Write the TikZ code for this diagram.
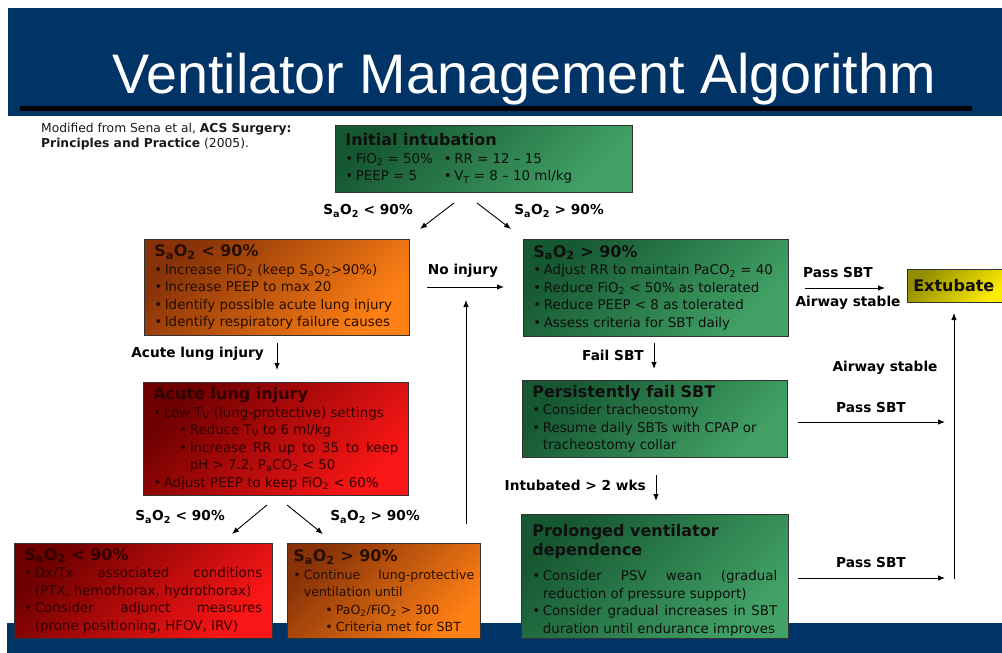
\documentclass[tikz,border=0pt]{standalone}
\usepackage{fontspec}
\setmainfont{DejaVu Sans}
\newfontfamily\titlefont{Liberation Sans}
\usetikzlibrary{arrows.meta}
\definecolor{navy}{RGB}{0,51,102}
\definecolor{gdark}{RGB}{22,88,50}
\definecolor{glight}{RGB}{66,162,102}
\definecolor{odark}{RGB}{135,50,8}
\definecolor{olight}{RGB}{255,128,20}
\definecolor{rdark}{RGB}{110,0,0}
\definecolor{rlight}{RGB}{250,22,22}
\definecolor{ydark}{RGB}{145,140,0}
\definecolor{ylight}{RGB}{252,236,0}
\definecolor{gtext}{RGB}{15,15,15}
\definecolor{otext}{RGB}{40,14,0}
\definecolor{rtext}{RGB}{50,0,0}
\newlength\bw
\setlength\bw{10.5pt}
\newcommand\bl[1]{\par{\leftskip=\bw\noindent\hskip-\bw\hbox to\bw{\textbullet\hss}#1\par}}
\newcommand\blii[2][26pt]{\par{\leftskip=\dimexpr#1+\bw\relax\noindent\hskip-\bw\hbox to\bw{\textbullet\hss}#2\par}}
\newcommand\sbs[1]{\textsubscript{#1}}
\newcommand\sao{S\textsubscript{a}O\textsubscript{2}}
\newcommand\bodysize{\fontsize{13.4}{17.5}}
\newcommand\bodyfont{\bodysize\selectfont\parindent=0pt\parskip=0pt\hyphenpenalty=10000\exhyphenpenalty=10000\tolerance=9999\emergencystretch=20pt}
\newcommand\bt[1]{{\bfseries\fontsize{16}{19}\selectfont #1\par}}
\newcommand\labfont{\bfseries\fontsize{13.7}{16}\selectfont}
\begin{document}
\begin{tikzpicture}[x=1pt,y=-1pt,
  box/.style={draw=black!80, line width=0.6pt, anchor=north west, inner xsep=10pt, inner ysep=0pt, align=justify, font=\bodyfont},
  gsh/.style={left color=gdark, right color=glight, shading angle=45, text=gtext},
  osh/.style={left color=odark, right color=olight, shading angle=45, text=otext},
  rsh/.style={left color=rdark, right color=rlight, shading angle=45, text=rtext},
  ysh/.style={left color=ydark, right color=ylight, shading angle=45, text=gtext},
  lab/.style={font=\labfont, inner sep=0pt, text=black},
  arr/.style={-{Latex[length=7pt,width=5.5pt]}, line width=0.9pt, draw=black}
]
\useasboundingbox (0,0) rectangle (1002,653);
\fill[white] (0,0) rectangle (1002,653);
% bands
\fill[navy] (8,8) rectangle (1002,116);
\fill[black] (20,106) rectangle (972,111);
\fill[navy] (7,623) rectangle (1002,653);
\node[anchor=base, text=white, inner sep=0pt, font=\titlefont\fontsize{55.7}{60}\selectfont] (title) at (524,93) {Ventilator Management Algorithm};
\node[anchor=north west, inner sep=0pt, align=left, text=black!90, font=\fontsize{12.3}{14.5}\selectfont] (cite) at (41,123) {Modified from Sena et al, \textbf{ACS Surgery:}\\\textbf{Principles and Practice} (2005).};

% boxes
\node[box, gsh, minimum width=297pt, minimum height=67pt, text width=277pt] (init) at (335,125) {%
\bt{Initial intubation}
\bl{\makebox[88pt][l]{FiO\sbs2 = 50\%}\hbox to\bw{\textbullet\hss}RR = 12 – 15}
\bl{\makebox[88pt][l]{PEEP = 5}\hbox to\bw{\textbullet\hss}V\sbs{T} = 8 – 10 ml/kg}};

\node[box, osh, minimum width=265pt, minimum height=96pt, text width=245pt] (o1) at (144,239) {%
\bt{\sao\ < 90\%}
\bl{Increase FiO\sbs2 (keep \sao>90\%)}
\bl{Increase PEEP to max 20}
\bl{Identify possible acute lung injury}
\bl{Identify respiratory failure causes}};

\node[box, gsh, minimum width=265pt, minimum height=97pt, text width=245pt] (g1) at (523,239) {%
\bt{\sao\ > 90\%}
\bl{Adjust RR to maintain PaCO\sbs2 = 40}
\bl{Reduce FiO\sbs2 < 50\% as tolerated}
\bl{Reduce PEEP < 8 as tolerated}
\bl{Assess criteria for SBT daily}};

\node[box, ysh, align=center, minimum width=97pt, minimum height=33pt, inner xsep=0pt, font=\bfseries\fontsize{16}{18}\selectfont] (ext) at (907,269) {\hspace*{-4pt}Extubate};

\node[box, rsh, minimum width=265pt, minimum height=113pt, text width=245pt] (r1) at (143,382) {%
\bt{Acute lung injury}
\bl{Low T\sbs{V} (lung-protective) settings}
\blii{Reduce T\sbs{V} to 6 ml/kg}
\blii{Increase RR up to 35 to keep\linebreak pH > 7.2, P\sbs{a}CO\sbs2 < 50}
\bl{Adjust PEEP to keep FiO\sbs2 < 60\%}};

\node[box, gsh, minimum width=265pt, minimum height=77pt, text width=245pt] (g2) at (522,380) {%
\bt{Persistently fail SBT}
\bl{Consider tracheostomy}
\bl{Resume daily SBTs with CPAP or\hfil\break tracheostomy collar}};

\node[box, rsh, minimum width=258pt, minimum height=95pt, text width=238pt] (r2) at (14,543) {%
\bt{\sao\ < 90\%}
\bl{Dx/Tx associated conditions\linebreak (PTX, hemothorax, hydrothorax)}
\bl{Consider adjunct measures\linebreak (prone positioning, HFOV, IRV)}};

\node[box, osh, minimum width=193pt, minimum height=95pt, inner xsep=6pt, text width=181pt, font=\bodyfont\fontsize{12.6}{17.5}\selectfont] (o2) at (287,543) {%
\bt{\sao\ > 90\%}
\bl{Continue lung-protective\linebreak ventilation until}
\blii[32pt]{PaO\sbs2/FiO\sbs2 > 300}
\blii[32pt]{Criteria met for SBT}};

\node[box, gsh, minimum width=267pt, minimum height=124pt, inner xsep=11pt, text width=245pt] (g3) at (521,514) {%
{\bfseries\fontsize{16}{18.5}\selectfont Prolonged ventilator\par dependence\par}\vspace{8pt}
\bl{Consider PSV wean (gradual\linebreak reduction of pressure support)}
\bl{Consider gradual increases in SBT\linebreak duration until endurance improves}
\vspace{-8pt}};

% labels
\node[lab] (l1) at (368,211) {\sao\ < 90\%};
\node[lab] (l2) at (559,211) {\sao\ > 90\%};
\node[lab] (l3) at (463,271) {No injury};
\node[lab, anchor=east] (l4) at (264,354) {Acute lung injury};
\node[lab] (l5) at (838,273) {Pass SBT};
\node[lab] (l6) at (848,303) {Airway stable};
\node[lab, anchor=east] (l7) at (644,355) {Fail SBT};
\node[lab] (l8) at (885,368) {Airway stable};
\node[lab] (l9) at (871,408) {Pass SBT};
\node[lab, anchor=east] (l10) at (646,485) {Intubated > 2 wks};
\node[lab] (l11) at (871,563) {Pass SBT};
\node[lab] (l12) at (180,517) {\sao\ < 90\%};
\node[lab] (l13) at (375,517) {\sao\ > 90\%};

% connector end points
\coordinate (a1s) at (454,203); \coordinate (a1e) at (420,229);
\coordinate (a2s) at (477,203); \coordinate (a2e) at (511,229);
\coordinate (a3s) at (277,343); \coordinate (a3e) at (277,370);
\coordinate (a4s) at (427,287); \coordinate (a4e) at (504,287);
\coordinate (a5s) at (466,524); \coordinate (a5e) at (466,300);
\coordinate (a6s) at (805,288); \coordinate (a6e) at (885,288);
\coordinate (a7s) at (654,343); \coordinate (a7e) at (654,369);
\coordinate (a8s) at (798,422); \coordinate (a8e) at (945,422);
\coordinate (a9s) at (656,475); \coordinate (a9e) at (656,501);
\coordinate (a10s) at (798,578); \coordinate (a10e) at (945,578);
\coordinate (a11s) at (954,579); \coordinate (a11e) at (954,313);
\coordinate (a12s) at (267,505); \coordinate (a12e) at (232,534);
\coordinate (a13s) at (287,505); \coordinate (a13e) at (323,534);

\foreach \i in {1,...,13} {\draw[arr] (a\i s) -- (a\i e);}
\end{tikzpicture}
\end{document}
